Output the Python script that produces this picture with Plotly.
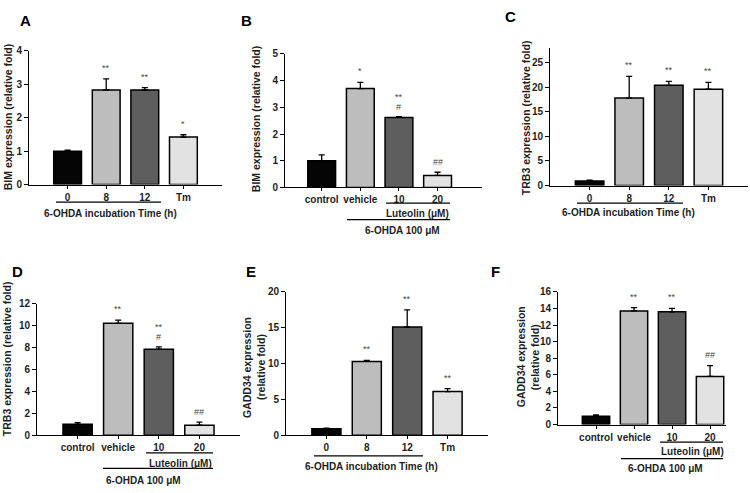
import plotly.graph_objects as go

W, H = 750, 493

# ---------------- data ----------------
time_cats = ["0", "8", "12", "Tm"]
dose_cats = ["control", "vehicle", "10", "20"]

A_vals = [1.0, 2.83, 2.83, 1.42]
A_err = [0.03, 0.33, 0.07, 0.07]
A_sig = ["", "**", "**", "*"]

B_vals = [1.0, 3.70, 2.62, 0.45]
B_err = [0.22, 0.23, 0.03, 0.12]
B_sig = ["", "*", "**", ""]
B_sig2 = ["", "", "#", "##"]

C_vals = [0.9, 17.8, 20.4, 19.6]
C_err = [0.2, 4.4, 0.8, 1.4]
C_sig = ["", "**", "**", "**"]

D_vals = [1.0, 10.2, 7.85, 0.92]
D_err = [0.15, 0.30, 0.20, 0.28]
D_sig = ["", "**", "**", ""]
D_sig2 = ["", "", "#", "##"]

E_vals = [0.9, 10.3, 15.1, 6.1]
E_err = [0.1, 0.15, 2.4, 0.4]
E_sig = ["", "**", "**", "**"]

F_vals = [1.0, 13.7, 13.6, 5.8]
F_err = [0.15, 0.40, 0.40, 1.30]
F_sig = ["", "**", "**", "##"]
F_sig2 = ["", "", "", ""]

bar_colors = ["#050505", "#bdbdbd", "#5e5e5e", "#e2e2e2"]

FONT = "Arial, Liberation Sans, sans-serif"
TXT = "#1e1e1e"


def px_x(p):
    return p / W


def px_y(p):
    return 1 - p / H


panels = [
    dict(name="A", box=(29, 222, 46, 183), yr=[0, 4], dt=1, xr=[-1, 4],
         cats=time_cats, vals=A_vals, err=A_err, sig=A_sig, sig2=None,
         ytitle=["BIM expression (relative fold)"], ytx=[8], yty=114, lab=(25, 15)),
    dict(name="B", box=(285, 482, 49, 186), yr=[0, 5], dt=1, xr=[-0.95, 4.15],
         cats=dose_cats, vals=B_vals, err=B_err, sig=B_sig, sig2=B_sig2,
         ytitle=["BIM expression (relative fold)"], ytx=[256], yty=116, lab=(246, 15)),
    dict(name="C", box=(550, 748, 43, 184), yr=[0, 28], dt=5, xr=[-1, 4],
         cats=time_cats, vals=C_vals, err=C_err, sig=C_sig, sig2=None,
         ytitle=["TRB3 expression (relative fold)"], ytx=[526], yty=115, lab=(510, 11)),
    dict(name="D", box=(37, 240, 305, 440), yr=[0, 12], dt=2, xr=[-1, 4],
         cats=dose_cats, vals=D_vals, err=D_err, sig=D_sig, sig2=D_sig2,
         ytitle=["TRB3 expression (relative fold)"], ytx=[7], yty=362, lab=(17, 272)),
    dict(name="E", box=(286, 488, 293, 440), yr=[0, 20], dt=5, xr=[-1, 4],
         cats=time_cats, vals=E_vals, err=E_err, sig=E_sig, sig2=None,
         ytitle=["GADD34 expression", "(relative fold)"], ytx=[247, 261], yty=370, lab=(251, 272)),
    dict(name="F", box=(558, 726, 293, 429), yr=[0, 16], dt=2, xr=[-1, 3.42],
         cats=dose_cats, vals=F_vals, err=F_err, sig=F_sig, sig2=F_sig2,
         ytitle=["GADD34 expression", "(relative fold)"], ytx=[521, 535], yty=360, lab=(495, 272)),
]

fig = go.Figure()
annotations = []
shapes = []

for i, p in enumerate(panels):
    k = "" if i == 0 else str(i + 1)
    xa, ya = "x" + k, "y" + k
    l, r, t, b = p["box"]
    xs = list(range(len(p["cats"])))
    fig.add_trace(go.Bar(
        x=xs, y=p["vals"], xaxis=xa, yaxis=ya, width=0.72,
        marker=dict(color=bar_colors, line=dict(color="#000000", width=1.5)),
        error_y=dict(type="data", array=p["err"], arrayminus=[0] * 4, symmetric=False,
                     color="#000000", thickness=1.3, width=3),
        showlegend=False, hoverinfo="skip",
    ))
    ticks = []
    v = 0
    while v <= p["yr"][1] + 1e-9:
        ticks.append(v)
        v += p["dt"]
    fig.update_layout(**{
        ("xaxis" + k): dict(domain=[px_x(l), px_x(r)], range=p["xr"], anchor=ya,
                            tickvals=xs, ticktext=p["cats"], ticks="outside", ticklen=3,
                            tickcolor="#000", showline=True, linecolor="#000", linewidth=1,
                            showgrid=False, zeroline=False, fixedrange=True,
                            tickfont=dict(family=FONT, size=10, color=TXT, weight="bold")),
        ("yaxis" + k): dict(domain=[px_y(b), px_y(t)], range=p["yr"], anchor=xa,
                            tickvals=ticks, ticks="outside", ticklen=4, tickcolor="#000",
                            showline=True, linecolor="#000", linewidth=1,
                            showgrid=False, zeroline=False, fixedrange=True,
                            tickfont=dict(family=FONT, size=10, color=TXT, weight="bold")),
    })
    for j in xs:
        top = p["vals"][j] + p["err"][j]
        s2 = p["sig2"][j] if p["sig2"] else ""
        if s2:
            annotations.append(dict(x=j, y=top, xref=xa, yref=ya, text=s2, showarrow=False,
                                    yanchor="bottom", yshift=3,
                                    font=dict(family=FONT, size=9, color="#444")))
        if p["sig"][j]:
            annotations.append(dict(x=j, y=top, xref=xa, yref=ya, text=p["sig"][j], showarrow=False,
                                    yanchor="bottom", yshift=13 if s2 else 4,
                                    font=dict(family=FONT, size=9, color="#444")))
    for line, tx in zip(p["ytitle"], p["ytx"]):
        annotations.append(dict(x=px_x(tx), y=px_y(p["yty"]), xref="paper", yref="paper",
                                text=line, textangle=-90, showarrow=False,
                                xanchor="center", yanchor="middle",
                                font=dict(family=FONT, size=10.5, color=TXT, weight="bold")))
    annotations.append(dict(x=px_x(p["lab"][0]), y=px_y(p["lab"][1]), xref="paper", yref="paper",
                            text=p["name"], showarrow=False, xanchor="center", yanchor="middle",
                            font=dict(family=FONT, size=15, color="#000", weight="bold")))


def hline(x0, x1, y):
    shapes.append(dict(type="line", xref="paper", yref="paper",
                       x0=px_x(x0), x1=px_x(x1), y0=px_y(y), y1=px_y(y),
                       line=dict(color="#000", width=1.3)))


def label(x, y, text):
    annotations.append(dict(x=px_x(x), y=px_y(y), xref="paper", yref="paper", text=text,
                            showarrow=False, xanchor="center", yanchor="middle",
                            font=dict(family=FONT, size=10, color=TXT, weight="bold")))


hline(56, 161, 201)
label(110, 213, "6-OHDA incubation Time (h)")
hline(386, 450, 202)
label(417, 213, "Luteolin (\u03bcM)")
hline(347, 450, 219)
label(402, 230, "6-OHDA 100 \u03bcM")
hline(577, 683, 202)
label(628, 212, "6-OHDA incubation Time (h)")
hline(146, 213, 458)
label(180, 469, "Luteolin (\u03bcM)")
hline(103, 213, 474)
label(143, 486, "6-OHDA 100 \u03bcM")
hline(314, 423, 461)
label(371, 472, "6-OHDA incubation Time (h)")
hline(660, 723, 447)
label(692, 457, "Luteolin (\u03bcM)")
hline(621, 723, 464)
label(665, 474, "6-OHDA 100 \u03bcM")

fig.update_layout(width=W, height=H, margin=dict(l=0, r=0, t=0, b=0),
                  paper_bgcolor="white", plot_bgcolor="white",
                  annotations=annotations, shapes=shapes, bargap=0)

fig.write_html("out.html", config={"displayModeBar": False, "staticPlot": True},
               post_script="document.body.style.margin='0';document.body.style.overflow='hidden';")
